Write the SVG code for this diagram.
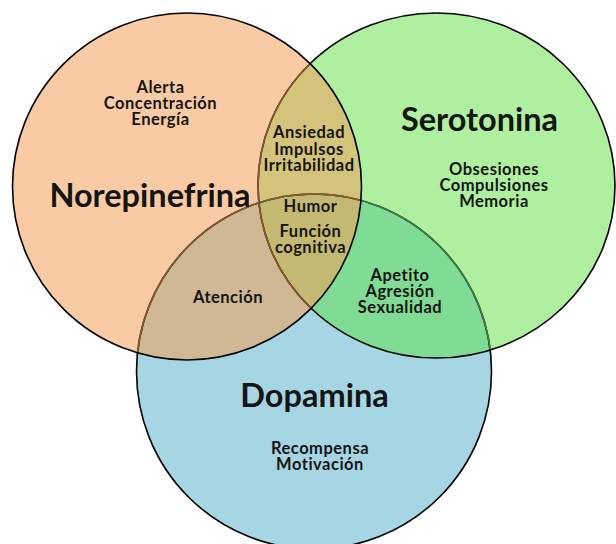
<svg xmlns="http://www.w3.org/2000/svg" width="616" height="544" viewBox="0 0 616 544">
<style>
.lbl{font-family:Lato,"Open Sans","DejaVu Sans",sans-serif;font-weight:bold;fill:#151515;text-anchor:middle}
.big{font-size:32.5px}
.sm{font-size:16.5px;letter-spacing:0.5px}
.edge{fill:none;stroke:#000;stroke-width:1.6}
</style>
<defs>
<ellipse id="shO" cx="187" cy="186.5" rx="174.5" ry="173.5"/>
<ellipse id="shG" cx="436.5" cy="185.5" rx="178.5" ry="172.5"/>
<circle id="shB" cx="314" cy="371.5" r="177.5"/>
<clipPath id="cO"><use href="#shO"/></clipPath>
<clipPath id="cG"><use href="#shG"/></clipPath>
<clipPath id="cB"><use href="#shB"/></clipPath>
</defs>
<rect width="616" height="544" fill="#fff"/>
<g id="fills">
<use href="#shB" fill="#A6D5E3"/>
<use href="#shG" fill="#AEF0A0"/>
<use href="#shO" fill="#F9CBA4"/>
<use href="#shG" fill="#80DC94" clip-path="url(#cB)"/>
<use href="#shO" fill="#D0B894" clip-path="url(#cB)"/>
<use href="#shO" fill="#D4C37A" clip-path="url(#cG)"/>
<g clip-path="url(#cB)"><use href="#shO" fill="#C4B972" clip-path="url(#cG)"/></g>
</g>
<g id="connectors">
<use href="#shB" class="edge"/>
<use href="#shB" class="edge" style="stroke:#3E7E45" clip-path="url(#cG)"/>
<use href="#shB" class="edge" style="stroke:#8A5A2E" clip-path="url(#cO)"/>
<use href="#shG" class="edge"/>
<use href="#shG" class="edge" style="stroke:#8A5A2E" clip-path="url(#cO)"/>
<use href="#shO" class="edge"/>
</g>
<g id="norepinefrina">
<text class="lbl big" x="150" y="207">Norepinefrina</text>
<text class="lbl sm" x="160.5" y="93">Alerta</text>
<text class="lbl sm" x="160.5" y="109">Concentración</text>
<text class="lbl sm" x="160.5" y="125">Energía</text>
</g>
<g id="serotonina">
<text class="lbl big" x="479.5" y="131">Serotonina</text>
<text class="lbl sm" x="494" y="175">Obsesiones</text>
<text class="lbl sm" x="494" y="191">Compulsiones</text>
<text class="lbl sm" x="494" y="207">Memoria</text>
</g>
<g id="dopamina">
<text class="lbl big" x="314.5" y="407">Dopamina</text>
<text class="lbl sm" x="320" y="454">Recompensa</text>
<text class="lbl sm" x="320" y="470">Motivación</text>
</g>
<g id="norepinefrina-serotonina">
<text class="lbl sm" x="309" y="138">Ansiedad</text>
<text class="lbl sm" x="309" y="155">Impulsos</text>
<text class="lbl sm" x="309" y="171">Irritabilidad</text>
</g>
<g id="centro">
<text class="lbl sm" x="310.5" y="212">Humor</text>
<text class="lbl sm" x="310.5" y="237">Función</text>
<text class="lbl sm" x="310.5" y="253">cognitiva</text>
</g>
<g id="norepinefrina-dopamina">
<text class="lbl sm" x="228" y="303">Atención</text>
</g>
<g id="serotonina-dopamina">
<text class="lbl sm" x="400" y="281">Apetito</text>
<text class="lbl sm" x="400" y="297">Agresión</text>
<text class="lbl sm" x="400" y="313">Sexualidad</text>
</g>
</svg>
